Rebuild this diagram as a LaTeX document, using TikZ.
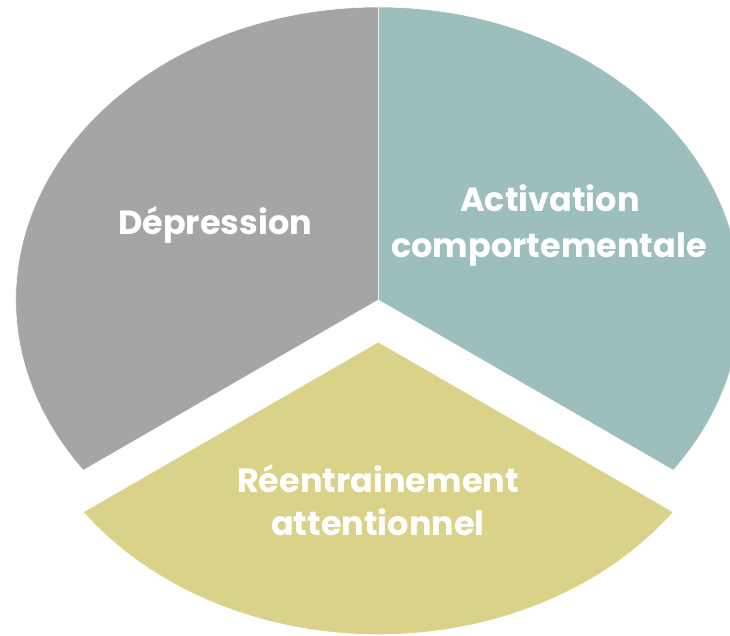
\documentclass[tikz,border=0pt]{standalone}
\usepackage{fontspec}
\newfontfamily\labelfont{Poppins}
\definecolor{pgray}{RGB}{165,165,165}
\definecolor{pteal}{RGB}{156,190,189}
\definecolor{pyellow}{RGB}{218,210,137}
\begin{document}
\begin{tikzpicture}[x=1pt,y=1pt,
  sector/.style={draw=white,line width=0.6pt},
  lab/.style={text=white,font=\labelfont\bfseries\fontsize{33.5}{40}\selectfont,inner sep=0pt,anchor=base}]
\useasboundingbox (0,0) rectangle (730,-636);
\clip (0,0) rectangle (730,-636);
% centre of the pie
\coordinate (C) at (378.3,-300);
\coordinate (Cy) at (378.3,-342);
% gray sector
\fill[pgray,sector] (C) -- ++(0,293) arc[start angle=90,end angle=215.55,x radius=362.6,y radius=293] -- cycle;
% teal sector
\fill[pteal,sector] (C) -- ++(0,293) arc[start angle=90,end angle=-35.55,x radius=362.6,y radius=293] -- cycle;
% yellow sector (exploded)
\fill[pyellow,sector] (Cy) -- ++(-295,-170) arc[start angle=215.55,end angle=324.45,x radius=362.6,y radius=293] -- cycle;
% labels
\node[lab] (dep) at (215,-234) {Dépression};
\node[lab] (act1) at (550,-212) {Activation};
\node[lab] (act2) at (549,-257) {comportementale};
\node[lab] (ree1) at (378,-492) {Réentrainement};
\node[lab] (ree2) at (378,-535) {attentionnel};
\end{tikzpicture}
\end{document}
